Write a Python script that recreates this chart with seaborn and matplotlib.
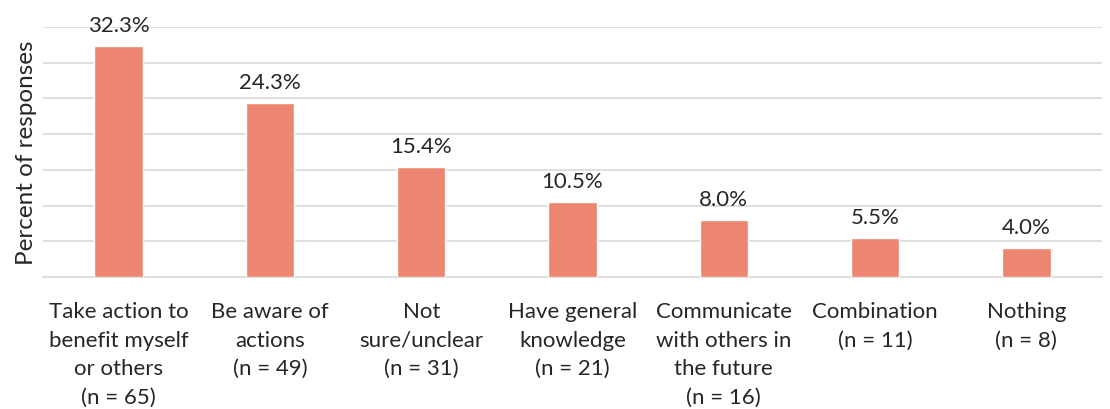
import matplotlib
matplotlib.use("Agg")
import matplotlib.pyplot as plt
import seaborn as sns
import pandas as pd

categories = [
    "Take action to\nbenefit myself\nor others\n(n = 65)",
    "Be aware of\nactions\n(n = 49)",
    "Not\nsure/unclear\n(n = 31)",
    "Have general\nknowledge\n(n = 21)",
    "Communicate\nwith others in\nthe future\n(n = 16)",
    "Combination\n(n = 11)",
    "Nothing\n(n = 8)",
]
values = [32.3, 24.3, 15.4, 10.5, 8.0, 5.5, 4.0]
yticks = [0, 5, 10, 15, 20, 25, 30, 35]

sns.set_theme(style="white")
plt.rcParams['font.family'] = ['Lato', 'DejaVu Sans']

df = pd.DataFrame({"cat": categories, "val": values})
fig = plt.figure(figsize=(11.1, 4.1), dpi=100)
ax = fig.add_axes([43/1110, 1 - 278/410, (1102-43)/1110, (278-28)/410])

sns.barplot(data=df, x="cat", y="val", color="#ED8670", saturation=1,
            width=0.32, ax=ax, zorder=3)
ax.set_ylim(0, 35)
ax.set_yticks(yticks)
ax.set_yticklabels([])
ax.tick_params(axis="y", length=0)
ax.tick_params(axis="x", length=0, labelsize=16, pad=17.5)
ax.grid(axis="y", color="#D9D9D9", linewidth=1.2, zorder=0)
for s in ["top", "right", "left"]:
    ax.spines[s].set_visible(False)
ax.spines["bottom"].set_color("#D9D9D9")
ax.spines["bottom"].set_linewidth(1.2)
ax.set_xlabel("")
ax.set_ylabel("Percent of responses", fontsize=17.5)
ax.yaxis.set_label_coords(-0.006, 0.5)
for p, v in zip(ax.patches, values):
    ax.annotate(f"{v:.1f}%", (p.get_x() + p.get_width()/2, p.get_height()),
                xytext=(0, 8), textcoords="offset points", ha="center",
                va="bottom", fontsize=16, clip_on=False)
for t in ax.get_xticklabels():
    t.set_linespacing(1.53)
fig.savefig("out.png", dpi=100)
